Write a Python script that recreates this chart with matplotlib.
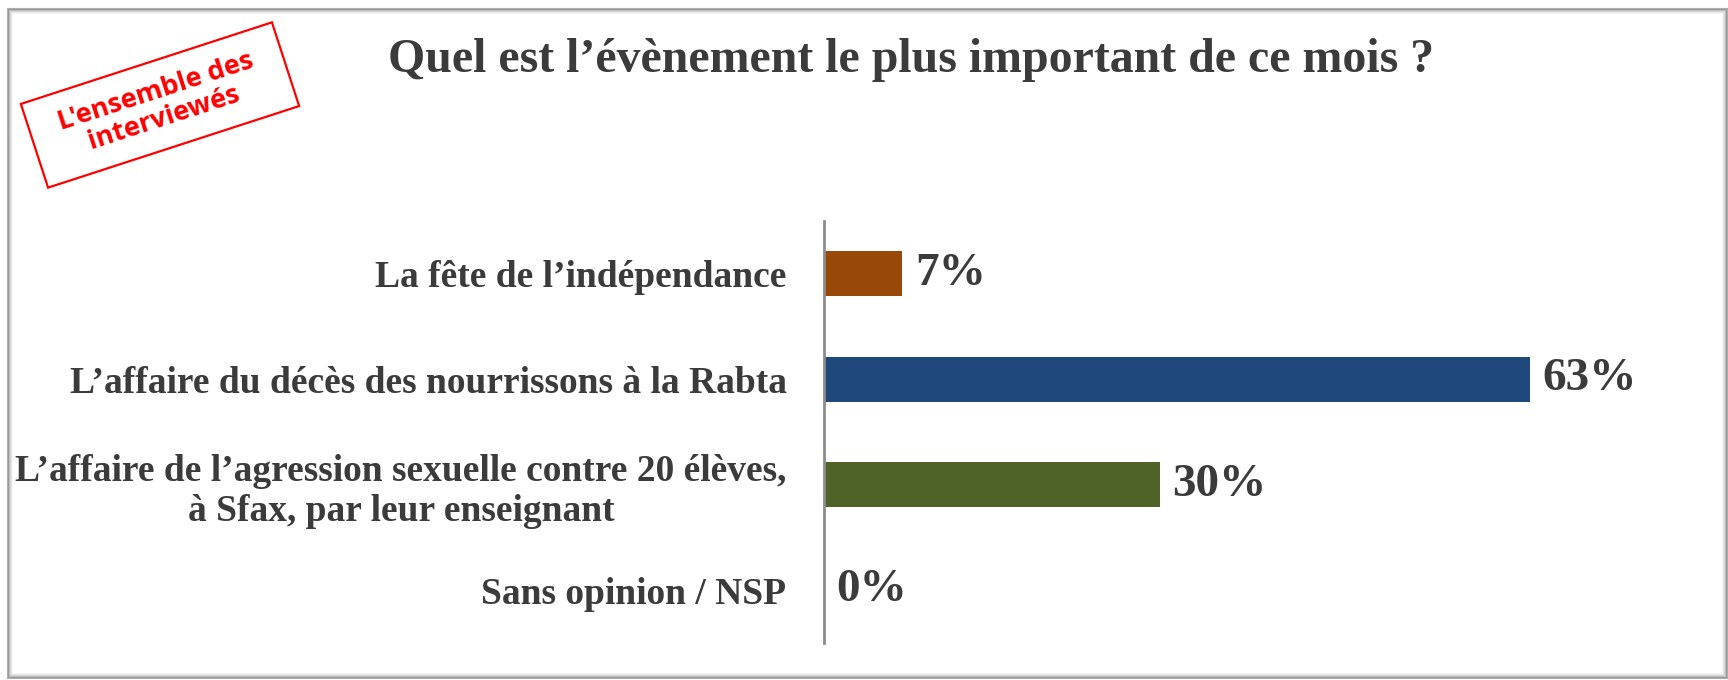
import matplotlib.pyplot as plt
from matplotlib.patches import Rectangle

# data
categories = [
    "La fête de l\u2019indépendance",
    "L\u2019affaire du décès des nourrissons à la Rabta",
    "L\u2019affaire de l\u2019agression sexuelle contre 20 élèves,\nà Sfax, par leur enseignant",
    "Sans opinion / NSP",
]
values = [7, 63, 30, 0]
bar_colors = ["#984807", "#1F497D", "#4F6228", "#4F81BD"]

title = "Quel est l\u2019évènement le plus important de ce mois ?"
stamp = "L'ensemble des\ninterviewés"

txt_color = "#3b3b3b"

fig = plt.figure(figsize=(17.28, 6.8), dpi=100)
fig.patch.set_facecolor("white")

# frame with a soft inner shadow
for i, a in enumerate([0.55, 0.3, 0.18, 0.1, 0.05]):
    fig.patches.append(Rectangle((8 + i, 2 + i), 1719 - 2 * i, 669 - 2 * i,
                                 transform=None, fill=False,
                                 edgecolor="#6e6e6e", alpha=a, linewidth=1.5))

ax = fig.add_axes([824 / 1728, 1 - 643 / 680, 896 / 1728, 422 / 680])
ypos = list(range(len(categories)))
ax.barh(ypos, values, height=0.43, color=bar_colors)
ax.set_xlim(0, 80)
ax.set_ylim(3.5, -0.5)

for y, v in zip(ypos, values):
    ax.annotate(f"{v}%", (v, y), xytext=(9, 0), textcoords="offset points",
                va="center", ha="left", fontsize=34, fontweight="bold",
                family="Liberation Serif", color=txt_color)

ax.set_yticks(ypos)
ax.set_yticklabels(categories, fontsize=27, fontweight="bold",
                   family="Liberation Serif", color=txt_color)
for lab in ax.get_yticklabels():
    lab.set_multialignment("center")
ax.tick_params(axis="y", length=0, pad=27)
ax.set_xticks([])
for s in ["top", "right", "bottom"]:
    ax.spines[s].set_visible(False)
ax.spines["left"].set_color("#8c8c8c")
ax.spines["left"].set_linewidth(2)

fig.text(0.527, 0.912, title, ha="center", va="center", fontsize=34.5,
         fontweight="bold", family="Liberation Serif", color=txt_color)

# red stamp
cx, cy = 160, 680 - 105
fig.patches.append(Rectangle((cx - 132, cy - 44), 264, 88, angle=18,
                             rotation_point="center", transform=None,
                             facecolor="white", edgecolor="#ff0000",
                             linewidth=1.6))
fig.text(cx / 1728, cy / 680, stamp, ha="center", va="center",
         fontsize=19.5, fontweight="bold", family="Open Sans", color="#ff0000",
         rotation=18, linespacing=1.1)

fig.savefig("out.png", dpi=100)
